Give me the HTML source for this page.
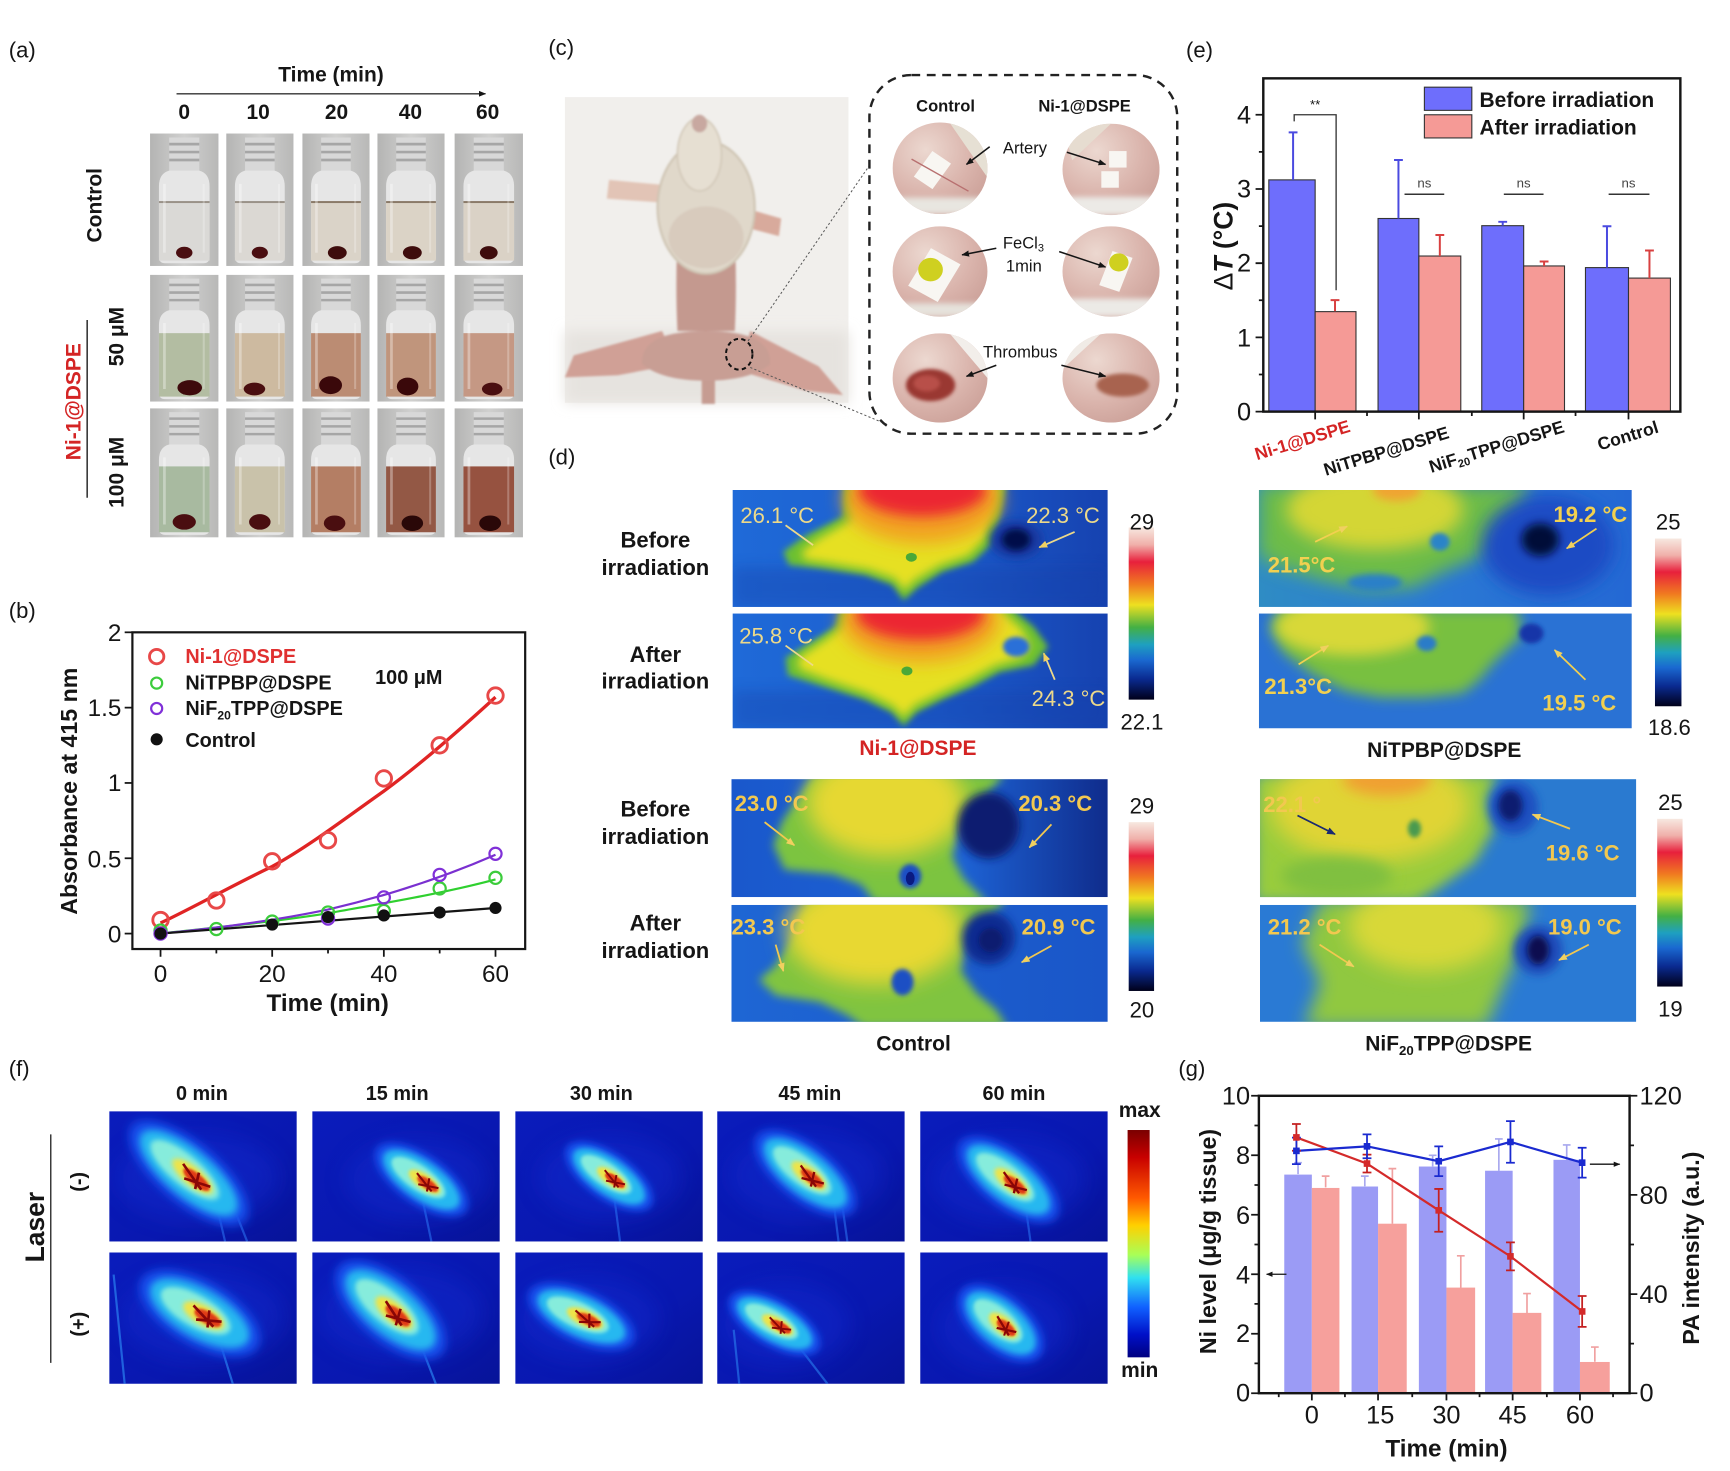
<!DOCTYPE html>
<html><head><meta charset="utf-8">
<style>
html,body{margin:0;padding:0;background:#fff;}
svg{display:block;}
text{font-family:"Liberation Sans",Arial,sans-serif;fill:#151515;}
</style></head><body>
<svg xmlns="http://www.w3.org/2000/svg" xmlns:xlink="http://www.w3.org/1999/xlink" width="1730" height="1471" viewBox="0 0 1568 1333" preserveAspectRatio="none">
<defs>
<filter id="f1" x="-50%" y="-50%" width="200%" height="200%"><feGaussianBlur stdDeviation="1"/></filter>
<filter id="f2" x="-50%" y="-50%" width="200%" height="200%"><feGaussianBlur stdDeviation="2"/></filter>
<filter id="f3" x="-50%" y="-50%" width="200%" height="200%"><feGaussianBlur stdDeviation="3"/></filter>
<filter id="f4" x="-50%" y="-50%" width="200%" height="200%"><feGaussianBlur stdDeviation="4"/></filter>
<filter id="f6" x="-50%" y="-50%" width="200%" height="200%"><feGaussianBlur stdDeviation="6"/></filter>
<filter id="f8" x="-50%" y="-50%" width="200%" height="200%"><feGaussianBlur stdDeviation="8"/></filter>
<filter id="f10" x="-50%" y="-50%" width="200%" height="200%"><feGaussianBlur stdDeviation="10"/></filter>
<linearGradient id="vbg" x1="0" x2="1" y1="0" y2="0"><stop offset="0" stop-color="#b4b4b3"/><stop offset=".5" stop-color="#d0d0cf"/><stop offset="1" stop-color="#b8b8b7"/></linearGradient>
<linearGradient id="tcb" x1="0" x2="0" y1="0" y2="1"><stop offset="0" stop-color="#f7e8e0"/><stop offset=".1" stop-color="#f0b0aa"/><stop offset=".2" stop-color="#e8203c"/><stop offset=".33" stop-color="#f07a20"/><stop offset=".45" stop-color="#eee020"/><stop offset=".58" stop-color="#44b044"/><stop offset=".68" stop-color="#1ea0c0"/><stop offset=".77" stop-color="#1a68d0"/><stop offset=".88" stop-color="#0a2a90"/><stop offset="1" stop-color="#00001a"/></linearGradient>
<linearGradient id="jet" x1="0" x2="0" y1="0" y2="1"><stop offset="0" stop-color="#7a0000"/><stop offset=".12" stop-color="#c80000"/><stop offset=".3" stop-color="#ff5a00"/><stop offset=".42" stop-color="#ffd000"/><stop offset=".55" stop-color="#a8ff58"/><stop offset=".65" stop-color="#30e0f0"/><stop offset=".78" stop-color="#1060ff"/><stop offset=".9" stop-color="#0010c8"/><stop offset="1" stop-color="#000080"/></linearGradient>
<linearGradient id="tA" x1="0" x2="1"><stop offset="0" stop-color="#1f6ad8"/><stop offset=".55" stop-color="#1c5ccc"/><stop offset="1" stop-color="#1642b0"/></linearGradient>
<linearGradient id="tB" x1="0" x2="1"><stop offset="0" stop-color="#2f8cc4"/><stop offset=".5" stop-color="#2a78d4"/><stop offset="1" stop-color="#2468d4"/></linearGradient>
<linearGradient id="tC" x1="0" x2="1"><stop offset="0" stop-color="#1a58cc"/><stop offset=".62" stop-color="#1d62d4"/><stop offset="1" stop-color="#0f2c8c"/></linearGradient>
<linearGradient id="tC2" x1="0" x2="1"><stop offset="0" stop-color="#1e66d4"/><stop offset="1" stop-color="#1a56c8"/></linearGradient>
<linearGradient id="pabg" x1="0" x2="1" y1="0" y2="1"><stop offset="0" stop-color="#0a1cbc"/><stop offset=".6" stop-color="#0918b0"/><stop offset="1" stop-color="#071398"/></linearGradient>
<radialGradient id="skin" cx=".35" cy=".3" r=".8"><stop offset="0" stop-color="#ecd8d0"/><stop offset=".6" stop-color="#dab4ac"/><stop offset="1" stop-color="#cba098"/></radialGradient>
<marker id="ahY" viewBox="0 0 10 10" refX="9" refY="5" markerWidth="5" markerHeight="5" orient="auto"><path d="M0,1 L10,5 L0,9 z" fill="#f0d060"/></marker>
<marker id="ahK" viewBox="0 0 10 10" refX="9" refY="5" markerWidth="5" markerHeight="5" orient="auto"><path d="M0,1 L10,5 L0,9 z" fill="#151515"/></marker>
<marker id="ahN" viewBox="0 0 10 10" refX="9" refY="5" markerWidth="5" markerHeight="5" orient="auto"><path d="M0,1 L10,5 L0,9 z" fill="#1a2a70"/></marker>
<clipPath id="circ"><ellipse cx="50" cy="50" rx="50" ry="50"/></clipPath>
<g id="vb">
<rect width="100" height="100" fill="url(#vbg)"/>
<path d="M28 3h44v26h-44z" fill="#d8d8d8"/>
<path d="M28 7h44v2h-44zM28 13h44v2h-44zM28 19h44v2h-44z" fill="#a6a6a6"/>
<path d="M28 28 Q13 30 13 40 L13 93 Q13 98 22 98 L78 98 Q87 98 87 93 L87 40 Q87 30 72 28Z" fill="#e6e6e6"/>
</g>
<g id="vt">
<rect x="19" y="38" width="4" height="52" fill="#fff" opacity=".35"/>
<rect x="77" y="38" width="3" height="52" fill="#fff" opacity=".25"/>
</g>
<g id="pab">
<ellipse rx="58" ry="26" fill="#1850ec" filter="url(#f4)"/>
<ellipse rx="48" ry="20" fill="#28b8f0" filter="url(#f3)"/>
<ellipse cx="-4" rx="34" ry="13" fill="#86ecdc" filter="url(#f2)"/>
<ellipse cx="4" rx="20" ry="8" fill="#eee448" filter="url(#f2)"/>
<ellipse cx="8" rx="13" ry="5" fill="#e03a12" filter="url(#f1)"/>
<path d="M-8 -3 L16 4 M0 6 L20 -3 M6 -6 L12 7" stroke="#8a0606" stroke-width="2.2"/>
</g>
</defs>

<!-- ============ (a) ============ -->
<text x="8" y="52" font-size="20">(a)</text>
<text x="300" y="74" font-size="19" font-weight="bold" text-anchor="middle">Time (min)</text>
<line x1="160" y1="85" x2="440" y2="85" stroke="#333" stroke-width="1.3" marker-end="url(#ahK)"/>
<g font-size="19" font-weight="bold" text-anchor="middle">
<text x="167" y="108">0</text><text x="234" y="108">10</text><text x="305" y="108">20</text><text x="372" y="108">40</text><text x="442" y="108">60</text>
</g>
<text transform="translate(92,186) rotate(-90)" font-size="19" font-weight="bold" text-anchor="middle">Control</text>
<text transform="translate(73,364) rotate(-90)" font-size="19" font-weight="bold" text-anchor="middle" style="fill:#d42424">Ni-1@DSPE</text>
<line x1="79" y1="290" x2="79" y2="451" stroke="#222" stroke-width="1.3"/>
<text transform="translate(112,305) rotate(-90)" font-size="19" font-weight="bold" text-anchor="middle">50 μM</text>
<text transform="translate(112,428) rotate(-90)" font-size="19" font-weight="bold" text-anchor="middle">100 μM</text>

<svg x="136" y="121" width="62" height="120" viewBox="0 0 100 100" preserveAspectRatio="none"><use href="#vb"/><rect x="13" y="52" width="74" height="44" fill="#dad9d6"/><rect x="13" y="51" width="74" height="1.5" fill="#9a9288"/><ellipse cx="50" cy="90" rx="12" ry="4.5" fill="#4a0e10"/><use href="#vt"/></svg>
<svg x="205" y="121" width="61" height="120" viewBox="0 0 100 100" preserveAspectRatio="none"><use href="#vb"/><rect x="13" y="52" width="74" height="44" fill="#dbd8d3"/><rect x="13" y="51" width="74" height="1.5" fill="#9a9288"/><ellipse cx="50" cy="90" rx="12" ry="4.5" fill="#4a0e10"/><use href="#vt"/></svg>
<svg x="274" y="121" width="61" height="120" viewBox="0 0 100 100" preserveAspectRatio="none"><use href="#vb"/><rect x="13" y="52" width="74" height="44" fill="#dad3c8"/><rect x="13" y="51" width="74" height="1.5" fill="#8a7a68"/><ellipse cx="52" cy="90" rx="14" ry="5" fill="#3e0c0c"/><use href="#vt"/></svg>
<svg x="342" y="121" width="61" height="120" viewBox="0 0 100 100" preserveAspectRatio="none"><use href="#vb"/><rect x="13" y="52" width="74" height="44" fill="#dbd3c6"/><rect x="13" y="51" width="74" height="1.5" fill="#8a7a68"/><ellipse cx="52" cy="90" rx="14" ry="5" fill="#3e0c0c"/><use href="#vt"/></svg>
<svg x="412" y="121" width="62" height="120" viewBox="0 0 100 100" preserveAspectRatio="none"><use href="#vb"/><rect x="13" y="52" width="74" height="44" fill="#dad2c6"/><rect x="13" y="51" width="74" height="1.5" fill="#8a7a68"/><ellipse cx="50" cy="90" rx="13" ry="5" fill="#3e0c0c"/><use href="#vt"/></svg>
<svg x="136" y="249" width="62" height="115" viewBox="0 0 100 100" preserveAspectRatio="none"><use href="#vb"/><rect x="13" y="46" width="74" height="50" fill="#b3bda2"/><ellipse cx="58" cy="89" rx="18" ry="6" fill="#3e0a0c"/><use href="#vt"/></svg>
<svg x="205" y="249" width="61" height="115" viewBox="0 0 100 100" preserveAspectRatio="none"><use href="#vb"/><rect x="13" y="46" width="74" height="50" fill="#cdbaa0"/><ellipse cx="42" cy="90" rx="16" ry="5" fill="#4a0e10"/><use href="#vt"/></svg>
<svg x="274" y="249" width="61" height="115" viewBox="0 0 100 100" preserveAspectRatio="none"><use href="#vb"/><rect x="13" y="46" width="74" height="50" fill="#bb8c73"/><ellipse cx="42" cy="87" rx="17" ry="7" fill="#3a080a"/><use href="#vt"/></svg>
<svg x="342" y="249" width="61" height="115" viewBox="0 0 100 100" preserveAspectRatio="none"><use href="#vb"/><rect x="13" y="46" width="74" height="50" fill="#c0957c"/><ellipse cx="45" cy="88" rx="16" ry="7" fill="#3a080a"/><use href="#vt"/></svg>
<svg x="412" y="249" width="62" height="115" viewBox="0 0 100 100" preserveAspectRatio="none"><use href="#vb"/><rect x="13" y="46" width="74" height="50" fill="#c59884"/><ellipse cx="55" cy="90" rx="15" ry="5" fill="#4a0e10"/><use href="#vt"/></svg>
<svg x="136" y="370" width="62" height="117" viewBox="0 0 100 100" preserveAspectRatio="none"><use href="#vb"/><rect x="13" y="45" width="74" height="51" fill="#a8baa0"/><ellipse cx="50" cy="88" rx="17" ry="6" fill="#4a0e10"/><use href="#vt"/></svg>
<svg x="205" y="370" width="61" height="117" viewBox="0 0 100 100" preserveAspectRatio="none"><use href="#vb"/><rect x="13" y="45" width="74" height="51" fill="#c9c2aa"/><ellipse cx="50" cy="88" rx="16" ry="6" fill="#4a0e10"/><use href="#vt"/></svg>
<svg x="274" y="370" width="61" height="117" viewBox="0 0 100 100" preserveAspectRatio="none"><use href="#vb"/><rect x="13" y="45" width="74" height="51" fill="#b47e64"/><ellipse cx="48" cy="89" rx="16" ry="6" fill="#4a0e10"/><use href="#vt"/></svg>
<svg x="342" y="370" width="61" height="117" viewBox="0 0 100 100" preserveAspectRatio="none"><use href="#vb"/><rect x="13" y="45" width="74" height="51" fill="#935845"/><ellipse cx="52" cy="89" rx="16" ry="6" fill="#2a0808"/><use href="#vt"/></svg>
<svg x="412" y="370" width="62" height="117" viewBox="0 0 100 100" preserveAspectRatio="none"><use href="#vb"/><rect x="13" y="45" width="74" height="51" fill="#965240"/><ellipse cx="52" cy="89" rx="16" ry="6" fill="#2a0808"/><use href="#vt"/></svg>

<!-- ============ (b) ============ -->
<text x="8" y="560" font-size="20">(b)</text>
<rect x="120" y="573" width="356" height="287" fill="none" stroke="#151515" stroke-width="2"/>
<g stroke="#151515" stroke-width="1.6">
<line x1="113" y1="573" x2="120" y2="573"/><line x1="113" y1="641.25" x2="120" y2="641.25"/><line x1="113" y1="709.5" x2="120" y2="709.5"/><line x1="113" y1="777.75" x2="120" y2="777.75"/><line x1="113" y1="846" x2="120" y2="846"/>
<line x1="145.5" y1="860" x2="145.5" y2="867"/><line x1="246.7" y1="860" x2="246.7" y2="867"/><line x1="347.9" y1="860" x2="347.9" y2="867"/><line x1="449.1" y1="860" x2="449.1" y2="867"/>
<line x1="196.1" y1="860" x2="196.1" y2="864"/><line x1="297.3" y1="860" x2="297.3" y2="864"/><line x1="398.5" y1="860" x2="398.5" y2="864"/>
</g>
<g font-size="22" text-anchor="end">
<text x="110" y="581">2</text><text x="110" y="649">1.5</text><text x="110" y="717">1</text><text x="110" y="786">0.5</text><text x="110" y="854">0</text>
</g>
<g font-size="22" text-anchor="middle">
<text x="145.5" y="890">0</text><text x="246.7" y="890">20</text><text x="347.9" y="890">40</text><text x="449.1" y="890">60</text>
</g>
<text x="297" y="916" font-size="22" font-weight="bold" text-anchor="middle">Time (min)</text>
<text transform="translate(70,717) rotate(-90)" font-size="21" font-weight="bold" text-anchor="middle">Absorbance at 415 nm</text>
<path d="M145.5 836.4 C180 820 215 800 246.7 785.2 C280 767 315 740 347.9 716.9 C382 692 416 662 449.1 631.7" fill="none" stroke="#e02424" stroke-width="3"/>
<path d="M145.5 846 C200 840 250 835 297.3 827.6 C350 818 400 810 449.1 796.9" fill="none" stroke="#2fd02f" stroke-width="2"/>
<path d="M145.5 846 C200 841 250 834 297.3 824.2 C350 812 400 796 449.1 774.6" fill="none" stroke="#7a30d0" stroke-width="2"/>
<line x1="145.5" y1="846" x2="449.1" y2="822.8" stroke="#151515" stroke-width="2"/>
<g fill="none" stroke="#e84848" stroke-width="2.6">
<circle cx="145.5" cy="833.7" r="7"/><circle cx="196.1" cy="816" r="7"/><circle cx="246.7" cy="780.5" r="7"/><circle cx="297.3" cy="761.4" r="7"/><circle cx="347.9" cy="705.4" r="7"/><circle cx="398.5" cy="675.4" r="7"/><circle cx="449.1" cy="630.3" r="7"/>
</g>
<g fill="none" stroke="#3ccc3c" stroke-width="2">
<circle cx="145.5" cy="843.3" r="5.5"/><circle cx="196.1" cy="841.9" r="5.5"/><circle cx="246.7" cy="835.1" r="5.5"/><circle cx="297.3" cy="826.9" r="5.5"/><circle cx="347.9" cy="825.5" r="5.5"/><circle cx="398.5" cy="805.1" r="5.5"/><circle cx="449.1" cy="795.5" r="5.5"/>
</g>
<g fill="none" stroke="#8030d8" stroke-width="2">
<circle cx="145.5" cy="846" r="5.5"/><circle cx="297.3" cy="832.4" r="5.5"/><circle cx="347.9" cy="813.2" r="5.5"/><circle cx="398.5" cy="792.8" r="5.5"/><circle cx="449.1" cy="773.7" r="5.5"/>
</g>
<g fill="#111">
<circle cx="145.5" cy="846" r="5.5"/><circle cx="246.7" cy="837.8" r="5.5"/><circle cx="297.3" cy="831" r="5.5"/><circle cx="347.9" cy="829.6" r="5.5"/><circle cx="398.5" cy="826.9" r="5.5"/><circle cx="449.1" cy="822.8" r="5.5"/>
</g>
<circle cx="142" cy="595" r="6.5" fill="none" stroke="#e84848" stroke-width="2.6"/>
<circle cx="142" cy="619" r="5" fill="none" stroke="#3ccc3c" stroke-width="2"/>
<circle cx="142" cy="642" r="5" fill="none" stroke="#8030d8" stroke-width="2"/>
<circle cx="142" cy="670" r="5.5" fill="#111"/>
<g font-size="18" font-weight="bold">
<text x="168" y="601" style="fill:#e03030">Ni-1@DSPE</text>
<text x="168" y="625">NiTPBP@DSPE</text>
<text x="168" y="648">NiF<tspan font-size="11" dy="4">20</tspan><tspan dy="-4">TPP@DSPE</tspan></text>
<text x="168" y="677">Control</text>
<text x="340" y="620">100 μM</text>
</g>

<!-- ============ (c) ============ -->
<text x="497" y="50" font-size="20">(c)</text>
<rect x="512" y="88" width="257" height="277" fill="#f1efec"/>
<rect x="512" y="300" width="257" height="65" fill="#e6e3df" filter="url(#f6)"/>
<g filter="url(#f1)">
<path d="M606 168 L552 163 L550 180 L605 184Z" fill="#e2c4b6"/>
<path d="M680 190 L708 198 L706 214 L676 206Z" fill="#d8aa9c"/>
<path d="M600 300 L520 322 L512 342 L560 340 L614 330Z" fill="#d0a096"/>
<path d="M680 300 L742 332 L764 358 L730 354 L670 336Z" fill="#d0a096"/>
<rect x="636" y="330" width="12" height="36" fill="#c69c92"/>
<path d="M640 300 Q700 300 698 330 Q680 345 640 345 Q600 345 582 330 Q580 300 640 300Z" fill="#c89e94"/>
<path d="M614 215 Q612 260 614 300 L666 300 Q668 260 666 215Z" fill="#c4998f"/>
<ellipse cx="640" cy="188" rx="44" ry="60" fill="#e0d8ca" stroke="#cfc5b4" stroke-width="2"/>
<ellipse cx="640" cy="215" rx="34" ry="28" fill="#d8cbbd"/>
<ellipse cx="634" cy="140" rx="20" ry="33" fill="#e6dfd2" stroke="#d2c8b8" stroke-width="1.5"/>
<ellipse cx="634" cy="112" rx="7" ry="8" fill="#c8a8a0"/>
</g>
<ellipse cx="670" cy="321" rx="12" ry="14" fill="none" stroke="#111" stroke-width="1.8" stroke-dasharray="4,3"/>
<line x1="678" y1="309" x2="788" y2="150" stroke="#555" stroke-width="0.9" stroke-dasharray="2,2"/>
<line x1="680" y1="333" x2="805" y2="385" stroke="#555" stroke-width="0.9" stroke-dasharray="2,2"/>
<rect x="788" y="68" width="279" height="325" rx="38" fill="none" stroke="#222" stroke-width="2.2" stroke-dasharray="8,6"/>
<text x="857" y="101" font-size="15" font-weight="bold" text-anchor="middle">Control</text>
<text x="983" y="101" font-size="15" font-weight="bold" text-anchor="middle">Ni-1@DSPE</text>
<svg x="809" y="111" width="86" height="83" viewBox="0 0 100 100" preserveAspectRatio="none"><g clip-path="url(#circ)"><rect width="100" height="100" fill="url(#skin)"/><path d="M60 0 L100 0 L100 60Z" fill="#e6e0d4"/><rect x="0" y="82" width="100" height="18" fill="#e8e6e0" filter="url(#f3)"/><rect x="30" y="35" width="24" height="34" fill="#f8f6f2" transform="rotate(35 42 52)"/><line x1="20" y1="40" x2="80" y2="75" stroke="#b87070" stroke-width="1.5"/></g></svg>
<svg x="963" y="112" width="88" height="83" viewBox="0 0 100 100" preserveAspectRatio="none"><g clip-path="url(#circ)"><rect width="100" height="100" fill="url(#skin)"/><path d="M0 0 L50 0 L10 40Z" fill="#e6dcd0"/><rect x="0" y="80" width="100" height="20" fill="#eceae6" filter="url(#f3)"/><rect x="48" y="30" width="18" height="18" fill="#f8f6f2"/><rect x="40" y="52" width="18" height="18" fill="#f8f6f2"/></g></svg>
<svg x="809" y="205" width="86" height="82" viewBox="0 0 100 100" preserveAspectRatio="none"><g clip-path="url(#circ)"><rect width="100" height="100" fill="url(#skin)"/><rect x="0" y="85" width="100" height="15" fill="#e6e2dc" filter="url(#f3)"/><rect x="26" y="30" width="36" height="48" fill="#f8f6f2" transform="rotate(30 44 54)"/><circle cx="40" cy="48" r="13" fill="#cfd020"/></g></svg>
<svg x="963" y="205" width="88" height="82" viewBox="0 0 100 100" preserveAspectRatio="none"><g clip-path="url(#circ)"><rect width="100" height="100" fill="url(#skin)"/><rect x="0" y="80" width="100" height="20" fill="#eceae6" filter="url(#f3)"/><rect x="44" y="30" width="22" height="40" fill="#f8f6f2" transform="rotate(20 55 50)"/><circle cx="58" cy="40" r="10" fill="#cfd020"/></g></svg>
<svg x="809" y="302" width="86" height="81" viewBox="0 0 100 100" preserveAspectRatio="none"><g clip-path="url(#circ)"><rect width="100" height="100" fill="url(#skin)"/><path d="M60 0 L100 0 L100 50 Z" fill="#f2eeea"/><ellipse cx="40" cy="58" rx="26" ry="18" fill="#9a3830" filter="url(#f2)"/><ellipse cx="36" cy="56" rx="14" ry="9" fill="#b85048" filter="url(#f2)"/></g></svg>
<svg x="963" y="302" width="88" height="81" viewBox="0 0 100 100" preserveAspectRatio="none"><g clip-path="url(#circ)"><rect width="100" height="100" fill="url(#skin)"/><path d="M0 0 L40 0 L0 40Z" fill="#f0ebe6"/><ellipse cx="62" cy="58" rx="27" ry="13" fill="#a86450" filter="url(#f2)"/></g></svg>
<g font-size="15">
<text x="909" y="139">Artery</text>
<text x="909" y="225">FeCl<tspan font-size="10" dy="3">3</tspan></text>
<text x="928" y="246" text-anchor="middle">1min</text>
<text x="891" y="324">Thrombus</text>
</g>
<g stroke="#151515" stroke-width="1.4" marker-end="url(#ahK)">
<line x1="897" y1="133" x2="876" y2="149"/><line x1="967" y1="138" x2="1002" y2="149"/>
<line x1="903" y1="225" x2="872" y2="231"/><line x1="960" y1="228" x2="1002" y2="242"/>
<line x1="903" y1="331" x2="876" y2="341"/><line x1="962" y1="331" x2="1002" y2="341"/>
</g>

<!-- ============ (d) ============ -->
<text x="497" y="421" font-size="20">(d)</text>
<g font-size="20" font-weight="bold" text-anchor="middle">
<text x="594" y="496">Before</text><text x="594" y="521">irradiation</text>
<text x="594" y="600">After</text><text x="594" y="624">irradiation</text>
<text x="594" y="740">Before</text><text x="594" y="765">irradiation</text>
<text x="594" y="843">After</text><text x="594" y="868">irradiation</text>
</g>

<svg x="664" y="444" width="340" height="106" viewBox="0 0 340 106">
<rect width="340" height="106" fill="url(#tA)"/>
<rect y="70" width="340" height="36" fill="#1440a8" opacity=".35" filter="url(#f6)"/>
<polygon points="101,-5 100,24 65,42 46,56 51,68 80,71 120,77 145,86 155,100 167,89 190,74 218,65 236,48 243,21 248,-5" fill="#6cc030" filter="url(#f3)"/>
<polygon points="110,-5 108,27 77,45 62,57 66,63 86,66 123,72 147,80 156,91 164,82 188,68 214,59 228,44 235,20 240,-5" fill="#e6e022" filter="url(#f4)"/>
<ellipse cx="172" cy="8" rx="72" ry="40" fill="#f2a024" filter="url(#f8)"/>
<ellipse cx="172" cy="0" rx="58" ry="24" fill="#ec2830" filter="url(#f6)"/>
<ellipse cx="162" cy="61" rx="5" ry="4" fill="#4aa838"/>
<ellipse cx="257" cy="45" rx="24" ry="17" fill="#1438a0" filter="url(#f4)"/>
<ellipse cx="257" cy="45" rx="13" ry="10" fill="#040a48" filter="url(#f3)"/>
<g font-size="20"><text x="7" y="30" style="fill:#ecd98a">26.1 °C</text><text x="266" y="30" style="fill:#ecd98a">22.3 °C</text></g>
<line x1="48" y1="32" x2="73" y2="50" stroke="#ecd98a" stroke-width="1.6"/>
<line x1="310" y1="38" x2="278" y2="52" stroke="#ecd98a" stroke-width="1.6" marker-end="url(#ahY)"/>
</svg>
<svg x="664" y="556" width="340" height="104" viewBox="0 0 340 104">
<rect width="340" height="104" fill="url(#tA)"/>
<rect y="70" width="340" height="34" fill="#1440a8" opacity=".35" filter="url(#f6)"/>
<polygon points="252,-5 273,12 286,30 273,47 242,53 218,66 190,78 166,90 155,102 145,90 120,78 82,66 50,56 48,40 79,21 93,12 98,-5" fill="#6cc030" filter="url(#f3)"/>
<polygon points="240,-5 262,14 270,30 262,40 238,47 214,60 188,72 165,83 155,94 146,84 122,72 86,60 60,50 60,40 84,24 100,12 106,-5" fill="#e6e022" filter="url(#f4)"/>
<ellipse cx="170" cy="6" rx="72" ry="38" fill="#f2a024" filter="url(#f8)"/>
<ellipse cx="170" cy="0" rx="58" ry="24" fill="#ec2830" filter="url(#f6)"/>
<ellipse cx="257" cy="30" rx="12" ry="9" fill="#2a70d8" filter="url(#f2)"/>
<ellipse cx="158" cy="52" rx="5" ry="4" fill="#4aa838"/>
<text x="6" y="27" font-size="20" style="fill:#ecd98a">25.8 °C</text>
<text x="271" y="84" font-size="20" style="fill:#ecd98a">24.3 °C</text>
<line x1="48" y1="29" x2="73" y2="47" stroke="#ecd98a" stroke-width="1.6"/>
<line x1="292" y1="60" x2="282" y2="36" stroke="#ecd98a" stroke-width="1.6" marker-end="url(#ahY)"/>
</svg>
<rect x="1023" y="478" width="23" height="156" fill="url(#tcb)"/>
<g font-size="20" text-anchor="middle"><text x="1035" y="480">29</text><text x="1035" y="661">22.1</text></g>
<text x="832" y="684" font-size="19" font-weight="bold" text-anchor="middle" style="fill:#d42424">Ni-1@DSPE</text>

<svg x="1141" y="444" width="338" height="106" viewBox="0 0 338 106">
<rect width="338" height="106" fill="url(#tB)"/>
<polygon points="0,-5 245,-5 232,35 200,60 165,75 140,88 100,90 60,82 20,70 0,60" fill="#6cbc48" filter="url(#f8)"/>
<ellipse cx="105" cy="18" rx="80" ry="36" fill="#d4d634" filter="url(#f8)"/>
<ellipse cx="125" cy="0" rx="22" ry="10" fill="#f0a430" filter="url(#f4)"/>
<ellipse cx="164" cy="47" rx="9" ry="8" fill="#2c84c8" filter="url(#f2)"/>
<ellipse cx="105" cy="84" rx="25" ry="8" fill="#2a80c8" filter="url(#f3)"/>
<ellipse cx="262" cy="50" rx="60" ry="45" fill="#1a4cc4" filter="url(#f8)"/>
<ellipse cx="255" cy="45" rx="17" ry="15" fill="#060a38" filter="url(#f4)"/>
<g font-size="20" font-weight="bold"><text x="267" y="29" style="fill:#f2d050">19.2 °C</text><text x="8" y="75" style="fill:#f2d050">21.5°C</text></g>
<line x1="51" y1="47" x2="80" y2="33" stroke="#f2d050" stroke-width="1.6" marker-end="url(#ahY)"/>
<line x1="306" y1="35" x2="279" y2="53" stroke="#f2d050" stroke-width="1.6" marker-end="url(#ahY)"/>
</svg>
<svg x="1141" y="556" width="338" height="104" viewBox="0 0 338 104">
<rect width="338" height="104" fill="#2a72d4"/>
<polygon points="20,-5 235,-5 238,20 212,45 200,60 185,72 150,76 110,76 78,70 48,55 22,35 10,12" fill="#78c040" filter="url(#f6)"/>
<ellipse cx="85" cy="12" rx="70" ry="26" fill="#d8d838" filter="url(#f6)"/>
<ellipse cx="152" cy="27" rx="9" ry="7" fill="#2c7cc8" filter="url(#f2)"/>
<ellipse cx="247" cy="18" rx="11" ry="9" fill="#1436a8" filter="url(#f2)"/>
<g font-size="20" font-weight="bold"><text x="5" y="73" style="fill:#f2d050">21.3°C</text><text x="257" y="88" style="fill:#f2d050">19.5 °C</text></g>
<line x1="36" y1="46" x2="63" y2="29" stroke="#f2d050" stroke-width="1.6" marker-end="url(#ahY)"/>
<line x1="296" y1="60" x2="268" y2="33" stroke="#f2d050" stroke-width="1.6" marker-end="url(#ahY)"/>
</svg>
<rect x="1500" y="488" width="24" height="152" fill="url(#tcb)"/>
<g font-size="20" text-anchor="middle"><text x="1512" y="480">25</text><text x="1513" y="666">18.6</text></g>
<text x="1309" y="686" font-size="19" font-weight="bold" text-anchor="middle">NiTPBP@DSPE</text>

<svg x="663" y="706" width="341" height="107" viewBox="0 0 341 107">
<rect width="341" height="107" fill="url(#tC)"/>
<polygon points="75,-5 248,-5 226,20 205,45 200,70 210,90 232,112 130,112 118,96 92,86 48,82 38,60 46,38 64,12" fill="#7cc440" filter="url(#f4)"/>
<ellipse cx="140" cy="22" rx="72" ry="48" fill="#e6d830" filter="url(#f10)"/>
<ellipse cx="233" cy="42" rx="28" ry="30" fill="#0c1a70" filter="url(#f4)"/>
<ellipse cx="162" cy="88" rx="10" ry="11" fill="#1c50c4" filter="url(#f2)"/>
<ellipse cx="162" cy="90" rx="4" ry="6" fill="#0a1a80"/>
<g font-size="20" font-weight="bold"><text x="3" y="29" style="fill:#f2c850">23.0 °C</text><text x="260" y="29" style="fill:#f2c850">20.3 °C</text></g>
<line x1="30" y1="39" x2="57" y2="60" stroke="#f2c850" stroke-width="1.6" marker-end="url(#ahY)"/>
<line x1="290" y1="41" x2="270" y2="62" stroke="#f2c850" stroke-width="1.6" marker-end="url(#ahY)"/>
</svg>
<svg x="663" y="820" width="341" height="106" viewBox="0 0 341 106">
<rect width="341" height="106" fill="url(#tC2)"/>
<polygon points="70,-5 250,-5 228,15 210,40 208,60 222,80 240,95 250,111 120,111 105,100 80,88 40,82 25,68 40,55 55,30" fill="#80c440" filter="url(#f4)"/>
<ellipse cx="130" cy="24" rx="80" ry="48" fill="#e8d830" filter="url(#f10)"/>
<ellipse cx="233" cy="30" rx="24" ry="24" fill="#0e2a90" filter="url(#f4)"/>
<ellipse cx="235" cy="32" rx="11" ry="11" fill="#0a1a70" filter="url(#f2)"/>
<ellipse cx="155" cy="70" rx="10" ry="12" fill="#1c50c4" filter="url(#f2)"/>
<g font-size="20" font-weight="bold"><text x="0" y="27" style="fill:#f2c850">23.3 °C</text><text x="263" y="27" style="fill:#f2c850">20.9 °C</text></g>
<line x1="40" y1="36" x2="47" y2="60" stroke="#f2c850" stroke-width="1.6" marker-end="url(#ahY)"/>
<line x1="290" y1="37" x2="263" y2="52" stroke="#f2c850" stroke-width="1.6" marker-end="url(#ahY)"/>
</svg>
<rect x="1023" y="745" width="23" height="153" fill="url(#tcb)"/>
<g font-size="20" text-anchor="middle"><text x="1035" y="737">29</text><text x="1035" y="922">20</text></g>
<text x="828" y="952" font-size="19" font-weight="bold" text-anchor="middle">Control</text>

<svg x="1142" y="706" width="341" height="107" viewBox="0 0 341 107">
<rect width="341" height="107" fill="#2a7ad0"/>
<polygon points="-5,-5 215,-5 205,20 212,45 195,75 160,100 140,112 -5,112" fill="#98cc3c" filter="url(#f6)"/>
<ellipse cx="100" cy="25" rx="90" ry="50" fill="#e0d434" filter="url(#f10)"/>
<ellipse cx="115" cy="0" rx="40" ry="15" fill="#f0a030" filter="url(#f6)"/>
<ellipse cx="70" cy="88" rx="50" ry="18" fill="#80c040" filter="url(#f6)"/>
<ellipse cx="140" cy="45" rx="6" ry="8" fill="#4a9a50" filter="url(#f2)"/>
<ellipse cx="230" cy="26" rx="22" ry="24" fill="#1a50c0" filter="url(#f4)"/>
<ellipse cx="227" cy="24" rx="11" ry="14" fill="#0a1a70" filter="url(#f3)"/>
<g font-size="20" font-weight="bold"><text x="3" y="30" style="fill:#f2c850">22.1 °</text><text x="259" y="74" style="fill:#f2c850">19.6 °C</text></g>
<line x1="34" y1="33" x2="68" y2="50" stroke="#1a2a70" stroke-width="1.6" marker-end="url(#ahN)"/>
<line x1="281" y1="45" x2="247" y2="32" stroke="#f2c850" stroke-width="1.6" marker-end="url(#ahY)"/>
</svg>
<svg x="1142" y="820" width="341" height="106" viewBox="0 0 341 106">
<rect width="341" height="106" fill="#2a7ad4"/>
<polygon points="55,-5 245,-5 238,35 222,70 205,111 40,111 55,70 38,35" fill="#90c840" filter="url(#f8)"/>
<ellipse cx="150" cy="20" rx="70" ry="40" fill="#d8d838" filter="url(#f10)"/>
<ellipse cx="252" cy="41" rx="22" ry="22" fill="#1a48b8" filter="url(#f4)"/>
<ellipse cx="252" cy="41" rx="10" ry="13" fill="#080e50" filter="url(#f3)"/>
<g font-size="20" font-weight="bold"><text x="7" y="27" style="fill:#f2c850">21.2 °C</text><text x="261" y="27" style="fill:#f2c850">19.0 °C</text></g>
<line x1="54" y1="36" x2="85" y2="56" stroke="#f2c850" stroke-width="1.6" marker-end="url(#ahY)"/>
<line x1="298" y1="36" x2="271" y2="50" stroke="#f2c850" stroke-width="1.6" marker-end="url(#ahY)"/>
</svg>
<rect x="1502" y="742" width="23" height="152" fill="url(#tcb)"/>
<g font-size="20" text-anchor="middle"><text x="1514" y="734">25</text><text x="1514" y="921">19</text></g>
<text x="1313" y="952" font-size="19" font-weight="bold" text-anchor="middle">NiF<tspan font-size="12" dy="4">20</tspan><tspan dy="-4">TPP@DSPE</tspan></text>

<!-- ============ (e) ============ -->
<text x="1075" y="52" font-size="20">(e)</text>
<g fill="#6e6efc" stroke="#333" stroke-width="1">
<rect x="1150" y="163" width="42" height="210"/>
<rect x="1249" y="198" width="37" height="175"/>
<rect x="1343" y="204.5" width="38" height="168.5"/>
<rect x="1437" y="242.5" width="39" height="130.5"/>
</g>
<g fill="#f59a96" stroke="#333" stroke-width="1">
<rect x="1192" y="282.4" width="37" height="90.6"/>
<rect x="1286" y="232" width="38" height="141"/>
<rect x="1381" y="241" width="37" height="132"/>
<rect x="1476" y="252" width="38" height="121"/>
</g>
<g stroke="#4a4ae0" stroke-width="1.8">
<path d="M1172 163V120M1168 120H1176"/><path d="M1267.5 198V145M1263.5 145H1271.5"/><path d="M1362 204.5V201M1358 201H1366"/><path d="M1456.5 242.5V205M1452.5 205H1460.5"/>
</g>
<g stroke="#d84040" stroke-width="1.8">
<path d="M1210 282V272M1206 272H1214"/><path d="M1305 232V213M1301 213H1309"/><path d="M1399.5 241V237M1395.5 237H1403.5"/><path d="M1495 252V227M1491 227H1499"/>
</g>
<path d="M1173 110V104H1211V263" fill="none" stroke="#333" stroke-width="1.2"/>
<text x="1192" y="99" font-size="12" text-anchor="middle">**</text>
<g stroke="#333" stroke-width="1.3"><path d="M1273 176H1309M1363 176H1399M1458 176H1495"/></g>
<g font-size="12" text-anchor="middle"><text x="1291" y="170" style="fill:#444">ns</text><text x="1381" y="170" style="fill:#444">ns</text><text x="1476" y="170" style="fill:#444">ns</text></g>
<rect x="1145" y="71" width="378" height="302" fill="none" stroke="#151515" stroke-width="2.2"/>
<g stroke="#151515" stroke-width="1.6">
<path d="M1138 373H1145M1138 305.75H1145M1138 238.5H1145M1138 171.25H1145M1138 104H1145"/>
<path d="M1141 339.4H1145M1141 272.1H1145M1141 204.9H1145M1141 137.6H1145"/>
<path d="M1192 373V380M1286 373V380M1381 373V380M1476 373V380M1239 373V377M1334 373V377M1428 373V377"/>
</g>
<g font-size="23" text-anchor="end">
<text x="1134" y="381">0</text><text x="1134" y="314">1</text><text x="1134" y="246">2</text><text x="1134" y="179">3</text><text x="1134" y="112">4</text>
</g>
<text transform="translate(1117,223) rotate(-90)" font-size="24" font-weight="bold" text-anchor="middle"><tspan font-weight="normal">Δ</tspan><tspan font-style="italic">T</tspan> (°C)</text>
<rect x="1291" y="79" width="43" height="21" fill="#6e6efc" stroke="#333" stroke-width="1"/>
<rect x="1291" y="104" width="43" height="21" fill="#f59a96" stroke="#333" stroke-width="1"/>
<g font-size="19" font-weight="bold"><text x="1341" y="97">Before irradiation</text><text x="1341" y="122">After irradiation</text></g>
<g font-size="16" font-weight="bold" text-anchor="middle">
<text transform="translate(1182,404) rotate(-17)" style="fill:#d42424">Ni-1@DSPE</text>
<text transform="translate(1258,414) rotate(-17)">NiTPBP@DSPE</text>
<text transform="translate(1358,410) rotate(-17)">NiF<tspan font-size="10" dy="3">20</tspan><tspan dy="-3">TPP@DSPE</tspan></text>
<text transform="translate(1477,400) rotate(-17)">Control</text>
</g>

<!-- ============ (f) ============ -->
<text x="8" y="975" font-size="20">(f)</text>
<g font-size="18" font-weight="bold" text-anchor="middle">
<text x="183" y="997">0 min</text><text x="360" y="997">15 min</text><text x="545" y="997">30 min</text><text x="734" y="997">45 min</text><text x="919" y="997">60 min</text>
</g>
<text transform="translate(40,1112) rotate(-90)" font-size="24" font-weight="bold" text-anchor="middle">Laser</text>
<line x1="46" y1="1028" x2="46" y2="1235" stroke="#333" stroke-width="1.3"/>
<text transform="translate(77,1071) rotate(-90)" font-size="18" font-weight="bold" text-anchor="middle">(-)</text>
<text transform="translate(77,1200) rotate(-90)" font-size="18" font-weight="bold" text-anchor="middle">(+)</text>
<svg x="99" y="1007" width="170" height="118" viewBox="0 0 170 118"><rect width="170" height="118" fill="url(#pabg)"/><ellipse cx="80" cy="60" rx="75" ry="40" fill="#1230d8" opacity=".35" filter="url(#f10)"/><path d="M95 75 L105 118 M110 80 L125 118" stroke="#2a70f0" stroke-width="2" opacity=".6"/><use href="#pab" transform="translate(72,56) rotate(40) scale(1.15 1.05)"/></svg>
<svg x="283" y="1007" width="170" height="118" viewBox="0 0 170 118"><rect width="170" height="118" fill="url(#pabg)"/><ellipse cx="95" cy="62" rx="65" ry="38" fill="#1230d8" opacity=".35" filter="url(#f10)"/><path d="M100 80 L108 118" stroke="#2a70f0" stroke-width="2" opacity=".6"/><use href="#pab" transform="translate(99,62) rotate(35) scale(.85)"/></svg>
<svg x="467" y="1007" width="170" height="118" viewBox="0 0 170 118"><rect width="170" height="118" fill="url(#pabg)"/><ellipse cx="85" cy="60" rx="65" ry="38" fill="#1230d8" opacity=".35" filter="url(#f10)"/><path d="M90 80 L95 118" stroke="#2a70f0" stroke-width="2" opacity=".6"/><use href="#pab" transform="translate(85,59) rotate(35) scale(.8)"/></svg>
<svg x="650" y="1007" width="170" height="118" viewBox="0 0 170 118"><rect width="170" height="118" fill="url(#pabg)"/><ellipse cx="80" cy="58" rx="70" ry="40" fill="#1230d8" opacity=".35" filter="url(#f10)"/><path d="M105 78 L110 118 M112 75 L118 118" stroke="#2a70f0" stroke-width="2" opacity=".6"/><use href="#pab" transform="translate(80,56) rotate(38) scale(.95)"/></svg>
<svg x="834" y="1007" width="170" height="118" viewBox="0 0 170 118"><rect width="170" height="118" fill="url(#pabg)"/><ellipse cx="80" cy="62" rx="70" ry="40" fill="#1230d8" opacity=".35" filter="url(#f10)"/><path d="M95 82 L100 118" stroke="#2a70f0" stroke-width="2" opacity=".6"/><use href="#pab" transform="translate(80,62) rotate(38) scale(.95)"/></svg>
<svg x="99" y="1135" width="170" height="119" viewBox="0 0 170 119"><rect width="170" height="119" fill="url(#pabg)"/><ellipse cx="85" cy="58" rx="75" ry="42" fill="#1230d8" opacity=".35" filter="url(#f10)"/><path d="M4 20 L14 119 M100 80 L112 119" stroke="#2a80f0" stroke-width="2" opacity=".7"/><use href="#pab" transform="translate(82,55) rotate(30) scale(1.05 1.1)"/></svg>
<svg x="283" y="1135" width="170" height="119" viewBox="0 0 170 119"><rect width="170" height="119" fill="url(#pabg)"/><ellipse cx="80" cy="55" rx="75" ry="42" fill="#1230d8" opacity=".35" filter="url(#f10)"/><path d="M95 75 L112 119" stroke="#2a80f0" stroke-width="2" opacity=".7"/><use href="#pab" transform="translate(71,52) rotate(40) scale(1.05 1.1)"/></svg>
<svg x="467" y="1135" width="170" height="119" viewBox="0 0 170 119"><rect width="170" height="119" fill="url(#pabg)"/><ellipse cx="65" cy="60" rx="65" ry="38" fill="#1230d8" opacity=".35" filter="url(#f10)"/><use href="#pab" transform="translate(60,58) rotate(25) scale(.9)"/></svg>
<svg x="650" y="1135" width="170" height="119" viewBox="0 0 170 119"><rect width="170" height="119" fill="url(#pabg)"/><ellipse cx="60" cy="65" rx="60" ry="38" fill="#1230d8" opacity=".35" filter="url(#f10)"/><path d="M15 70 L20 119 M70 80 L100 119" stroke="#2a80f0" stroke-width="2" opacity=".6"/><use href="#pab" transform="translate(52,64) rotate(30) scale(.8)"/></svg>
<svg x="834" y="1135" width="170" height="119" viewBox="0 0 170 119"><rect width="170" height="119" fill="url(#pabg)"/><ellipse cx="75" cy="68" rx="60" ry="40" fill="#1230d8" opacity=".35" filter="url(#f10)"/><use href="#pab" transform="translate(73,64) rotate(40) scale(.8 .95)"/></svg>
<rect x="1022" y="1024" width="20" height="206" fill="url(#jet)"/>
<g font-size="19" font-weight="bold" text-anchor="middle"><text x="1033" y="1012">max</text><text x="1033" y="1248">min</text></g>

<!-- ============ (g) ============ -->
<text x="1068" y="975" font-size="20">(g)</text>
<g fill="#9b9bf5">
<rect x="1164" y="1064.4" width="25" height="198.1"/><rect x="1225" y="1075.2" width="24" height="187.3"/><rect x="1286" y="1057.1" width="25" height="205.4"/><rect x="1346" y="1060.9" width="25" height="201.6"/><rect x="1408" y="1051" width="24" height="211.5"/>
</g>
<g fill="#f6a09c">
<rect x="1189" y="1076.5" width="25" height="186"/><rect x="1249" y="1108.9" width="26" height="153.6"/><rect x="1311" y="1166.8" width="26" height="95.7"/><rect x="1371" y="1189.7" width="26" height="72.8"/><rect x="1432" y="1234.2" width="27" height="28.3"/>
</g>
<g stroke="#a8a8ee" stroke-width="1.5">
<path d="M1176.5 1064V1053.6M1173 1053.6H1180"/><path d="M1237 1075V1065.8M1233.5 1065.8H1240.5"/><path d="M1298.5 1057V1046.9M1295 1046.9H1302"/><path d="M1358.5 1061V1032.1M1355 1032.1H1362"/><path d="M1420 1051V1037.5M1416.5 1037.5H1423.5"/>
</g>
<g stroke="#f0a0a0" stroke-width="1.5">
<path d="M1201.5 1076V1065.8M1198 1065.8H1205"/><path d="M1262 1109V1059M1258.5 1059H1265.5"/><path d="M1324 1167V1138M1320.5 1138H1327.5"/><path d="M1384 1190V1172.2M1380.5 1172.2H1387.5"/><path d="M1445.5 1234V1220.7M1442 1220.7H1449"/>
</g>
<polyline points="1175,1030.7 1239,1054.4 1304,1096.8 1369,1138.5 1434,1188.4" fill="none" stroke="#d42a2a" stroke-width="2"/>
<polyline points="1175,1042.9 1239,1038.8 1304,1052.3 1369,1034.8 1434,1053.6" fill="none" stroke="#1a2ad0" stroke-width="2"/>
<g stroke="#c42020" stroke-width="1.6">
<path d="M1175 1018.6V1042.8M1171 1018.6H1179M1171 1042.8H1179"/><path d="M1239 1046.3V1062.5M1235 1046.3H1243M1235 1062.5H1243"/><path d="M1304 1077.4V1116.2M1300 1077.4H1308M1300 1116.2H1308"/><path d="M1369 1125.8V1151.2M1365 1125.8H1373M1365 1151.2H1373"/><path d="M1434 1174.4V1202.4M1430 1174.4H1438M1430 1202.4H1438"/>
</g>
<g stroke="#1a2ad0" stroke-width="1.6">
<path d="M1175 1030.9V1054.9M1171 1030.9H1179M1171 1054.9H1179"/><path d="M1239 1028V1049.6M1235 1028H1243M1235 1049.6H1243"/><path d="M1304 1038.8V1065.8M1300 1038.8H1308M1300 1065.8H1308"/><path d="M1369 1015.9V1053.7M1365 1015.9H1373M1365 1053.7H1373"/><path d="M1434 1040.1V1067.1M1430 1040.1H1438M1430 1067.1H1438"/>
</g>
<g fill="#d42a2a"><rect x="1172" y="1027.7" width="6" height="6"/><rect x="1236" y="1051.4" width="6" height="6"/><rect x="1301" y="1093.8" width="6" height="6"/><rect x="1366" y="1135.5" width="6" height="6"/><rect x="1431" y="1185.4" width="6" height="6"/></g>
<g fill="#1a2ad0"><rect x="1172" y="1039.9" width="6" height="6"/><rect x="1236" y="1035.8" width="6" height="6"/><rect x="1301" y="1049.3" width="6" height="6"/><rect x="1366" y="1031.8" width="6" height="6"/><rect x="1431" y="1050.6" width="6" height="6"/></g>
<line x1="1166" y1="1154.7" x2="1148" y2="1154.7" stroke="#151515" stroke-width="1.2" marker-end="url(#ahK)"/>
<line x1="1441" y1="1055" x2="1468" y2="1055" stroke="#151515" stroke-width="1.2" marker-end="url(#ahK)"/>
<rect x="1141" y="993" width="336" height="269.5" fill="none" stroke="#151515" stroke-width="2.2"/>
<g stroke="#151515" stroke-width="1.6">
<path d="M1134 1262.5H1141M1134 1208.6H1141M1134 1154.7H1141M1134 1100.8H1141M1134 1046.9H1141M1134 993H1141"/>
<path d="M1137 1235.5H1141M1137 1181.6H1141M1137 1127.7H1141M1137 1073.8H1141M1137 1019.9H1141"/>
<path d="M1477 1262.5H1484M1477 1172.7H1484M1477 1082.8H1484M1477 993H1484"/>
<path d="M1477 1217.6H1481M1477 1127.7H1481M1477 1037.9H1481"/>
<path d="M1189 1262.5V1269M1249 1262.5V1269M1311 1262.5V1269M1371 1262.5V1269M1432 1262.5V1269"/>
<path d="M1159 1262.5V1266M1219 1262.5V1266M1280 1262.5V1266M1341 1262.5V1266M1402 1262.5V1266M1462 1262.5V1266"/>
</g>
<g font-size="23" text-anchor="end">
<text x="1133" y="1270">0</text><text x="1133" y="1216">2</text><text x="1133" y="1163">4</text><text x="1133" y="1109">6</text><text x="1133" y="1055">8</text><text x="1133" y="1001">10</text>
</g>
<g font-size="23">
<text x="1486" y="1270">0</text><text x="1486" y="1181">40</text><text x="1486" y="1091">80</text><text x="1486" y="1001">120</text>
</g>
<g font-size="23" text-anchor="middle">
<text x="1189" y="1290">0</text><text x="1251" y="1290">15</text><text x="1311" y="1290">30</text><text x="1371" y="1290">45</text><text x="1432" y="1290">60</text>
</g>
<text x="1311" y="1320" font-size="22" font-weight="bold" text-anchor="middle">Time (min)</text>
<text transform="translate(1102,1125) rotate(-90)" font-size="21" font-weight="bold" text-anchor="middle">Ni level (μg/g tissue)</text>
<text transform="translate(1540,1131) rotate(-90)" font-size="21" font-weight="bold" text-anchor="middle">PA intensity (a.u.)</text>
</svg>
</body></html>
